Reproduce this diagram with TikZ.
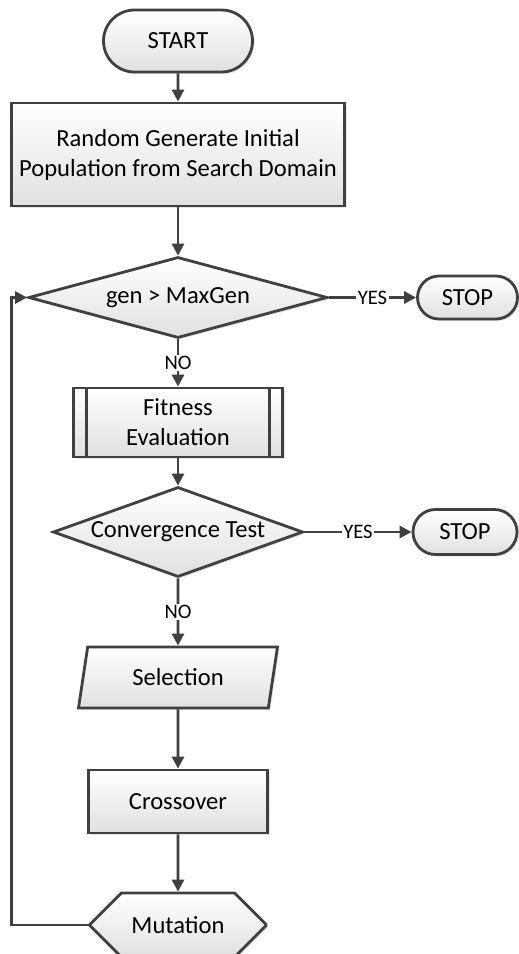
\documentclass[tikz,border=0pt]{standalone}
\usepackage{fontspec}
\setmainfont{Carlito}
\definecolor{flowgray}{HTML}{404040}
\usetikzlibrary{shapes.geometric, shapes.misc, arrows.meta, positioning, shadows}
\tikzset{
  flowbase/.style={
    draw=flowgray, line width=1.4pt, top color=white, bottom color=black!12,
    drop shadow={shadow xshift=1pt, shadow yshift=-1pt, opacity=0.2},
    align=center, inner sep=0pt, font=\fontsize{12.3}{15}\selectfont
  },
  termbox/.style={flowbase, rounded rectangle},
  flowbox/.style={flowbase, rectangle},
  decbox/.style={flowbase, diamond},
  iobox/.style={
    flowbase, trapezium, trapezium left angle=62, trapezium right angle=118,
    trapezium stretches body=true
  },
  prepbox/.style={
    flowbase, rectangle,
    path picture={
      \draw[flowgray, line width=1.4pt]
        ([xshift=6.5pt]path picture bounding box.north west) -- ([xshift=6.5pt]path picture bounding box.south west)
        ([xshift=-6.5pt]path picture bounding box.north east) -- ([xshift=-6.5pt]path picture bounding box.south east);
    }
  },
  mutbox/.style={
    flowbase, chamfered rectangle, inner ysep=-4.5pt,
    chamfered rectangle xsep=11.5pt, chamfered rectangle ysep=15.9pt
  },
  flowarrow/.style={-{Triangle[length=6pt,width=6pt]}, line width=1.4pt, draw=flowgray},
  flowlabel/.style={fill=white, inner sep=0.8pt, font=\fontsize{10.3}{12}\selectfont}
}

\begin{document}
\begin{tikzpicture}[x=0.5pt, y=0.5pt]
\useasboundingbox (0,0) rectangle (519,-954);

\node[termbox, minimum width=74.5pt, minimum height=31pt] (start) at (178,-41) {START};
\node[flowbox, minimum width=166.5pt, minimum height=51.5pt, below=14.1pt of start] (init)
  {Random Generate Initial\\Population from Search Domain};
\node[decbox, aspect=3.7, minimum width=149.5pt, minimum height=40.5pt, below=24.1pt of init] (gen) {gen > MaxGen};
\node[termbox, minimum width=50pt, minimum height=21.5pt, right=43.6pt of gen] (stopa) {STOP};
\node[prepbox, minimum width=104.5pt, minimum height=34.5pt, below=23.6pt of gen] (fit) {Fitness\\Evaluation};
\node[decbox, aspect=2.78, minimum width=125pt, minimum height=45pt, below=13.6pt of fit] (conv) {Convergence Test};
\node[termbox, minimum width=52pt, minimum height=22.5pt, right=53.6pt of conv] (stopb) {STOP};
\node[iobox, minimum width=99.5pt, minimum height=30.5pt, below=33.6pt of conv] (sel) {Selection};
\node[flowbox, minimum width=89.5pt, minimum height=31.5pt, below=29.6pt of sel] (cross) {Crossover};
\node[mutbox, minimum width=88pt, minimum height=32pt, below=28.6pt of cross] (mut) {Mutation};

\draw[flowarrow] (start) -- (init);
\draw[flowarrow] (init)  -- (gen);
\draw[flowarrow] (gen)   -- node[flowlabel] {YES} (stopa);
\draw[flowarrow] (gen)   -- node[flowlabel] {NO} (fit);
\draw[flowarrow] (fit)   -- (conv);
\draw[flowarrow] (conv)  -- node[flowlabel] {YES} (stopb);
\draw[flowarrow] (conv)  -- node[flowlabel] {NO} (sel);
\draw[flowarrow] (sel)   -- (cross);
\draw[flowarrow] (cross) -- (mut);
\draw[flowarrow] (mut.west) -- ++(-77,0) |- (gen.west);
\end{tikzpicture}
\end{document}
